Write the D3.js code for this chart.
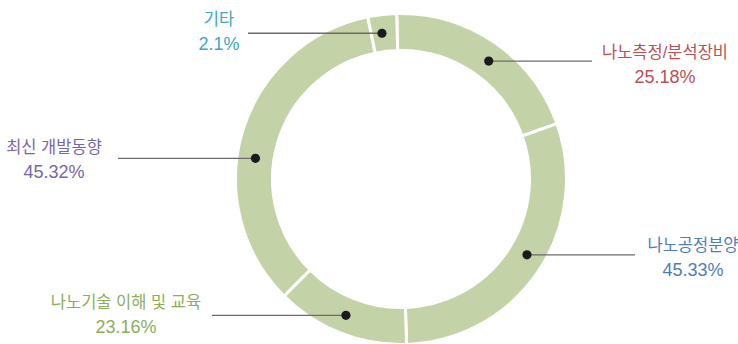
<!DOCTYPE html>
<html>
<head>
<meta charset="utf-8">
<script src="https://cdn.jsdelivr.net/npm/d3@7"></script>
<style>
  body { margin: 0; background: #fff; }
  text { font-family: "Liberation Sans", "Noto Sans CJK KR", sans-serif; }
</style>
</head>
<body>
<script>
// Data
const categories = ["나노측정/분석장비", "나노공정분양", "나노기술 이해 및 교육", "최신 개발동향", "기타"];
const percentLabels = ["25.18%", "45.33%", "23.16%", "45.32%", "2.1%"];
// slice shares as drawn in the picture (the printed percentages don't add up to 100)
const sliceShares = [20.0, 29.9, 13.05, 34.3, 2.8];
const labelColors = ["#bd4f55", "#4f7db8", "#8aae5a", "#7866a6", "#3ba9c2"];

// Layout
const width = 738, height = 344;
const cx = 401, cy = 179;
const outerR = 165.5, innerR = 128.5;
const dotR = 147;
// where along each slice the dot sits (0 = start, 1 = end)
const dotT = [0.53, 0.47, 0.51, 0.43, 0.41];
// label centre x, first line baseline, leader line end x
const labelPos = [
  { x: 665, y: 58, lineX: 592 },
  { x: 693, y: 251, lineX: 635 },
  { x: 126, y: 308, lineX: 212 },
  { x: 54, y: 153, lineX: 118 },
  { x: 219, y: 25, lineX: 248 }
];

const svg = d3.select("body").append("svg")
  .attr("width", width)
  .attr("height", height)
  .attr("viewBox", [0, 0, width, height]);

const deg = Math.PI / 180;
const pie = d3.pie()
  .sort(null)
  .value(d => d)
  .startAngle(-1.5 * deg)
  .endAngle(358.5 * deg);

const arcs = pie(sliceShares);

const arc = d3.arc()
  .innerRadius(innerR)
  .outerRadius(outerR);

const g = svg.append("g").attr("transform", `translate(${cx},${cy})`);

// Ring
g.selectAll("path")
  .data(arcs)
  .join("path")
  .attr("d", arc)
  .attr("fill", "#c3d3a7")
  .attr("stroke", "#fff")
  .attr("stroke-width", 3);

// Dot positions
const dots = arcs.map((a, i) => {
  const ang = a.startAngle + dotT[i] * (a.endAngle - a.startAngle);
  return { x: cx + dotR * Math.sin(ang), y: cy - dotR * Math.cos(ang), i };
});

// Leader lines
svg.append("g")
  .selectAll("line")
  .data(dots)
  .join("line")
  .attr("x1", d => d.x)
  .attr("y1", d => d.y)
  .attr("x2", d => labelPos[d.i].lineX)
  .attr("y2", d => d.y)
  .attr("stroke", "#6b6b6b")
  .attr("stroke-width", 1.3);

// Dots
svg.append("g")
  .selectAll("circle")
  .data(dots)
  .join("circle")
  .attr("cx", d => d.x)
  .attr("cy", d => d.y)
  .attr("r", 4.6)
  .attr("fill", "#1c1a1d");

// Labels
const labels = svg.append("g")
  .selectAll("text")
  .data(categories)
  .join("text")
  .attr("text-anchor", "middle")
  .attr("fill", (d, i) => labelColors[i]);

labels.append("tspan")
  .attr("x", (d, i) => labelPos[i].x)
  .attr("y", (d, i) => labelPos[i].y)
  .style("font-size", "16.5px")
  .text(d => d);

labels.append("tspan")
  .attr("x", (d, i) => labelPos[i].x)
  .attr("y", (d, i) => labelPos[i].y + 25)
  .style("font-size", "18px")
  .text((d, i) => percentLabels[i]);
</script>
</body>
</html>
